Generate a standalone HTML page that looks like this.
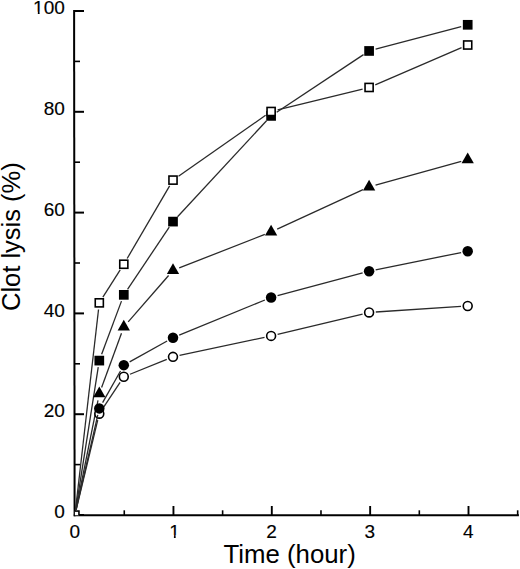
<!DOCTYPE html>
<html><head><meta charset="utf-8">
<style>
html,body{margin:0;padding:0;background:#fff;}
body{width:520px;height:569px;overflow:hidden;}
svg{display:block;font-family:"Liberation Sans", sans-serif;}
</style></head>
<body>
<svg width="520" height="569" viewBox="0 0 520 569">
<rect width="520" height="569" fill="#fff"/>
<g stroke="#000">
<line x1="74.1" y1="10" x2="74.6" y2="516.2" stroke-width="2"/>
<line x1="73.8" y1="515.2" x2="518.9" y2="515.2" stroke-width="2"/>
<line x1="74" y1="515.00" x2="84" y2="515.00" stroke-width="2"/>
<line x1="74" y1="464.60" x2="80" y2="464.60" stroke-width="1.6"/>
<line x1="74" y1="414.20" x2="84" y2="414.20" stroke-width="2"/>
<line x1="74" y1="363.80" x2="80" y2="363.80" stroke-width="1.6"/>
<line x1="74" y1="313.40" x2="84" y2="313.40" stroke-width="2"/>
<line x1="74" y1="263.00" x2="80" y2="263.00" stroke-width="1.6"/>
<line x1="74" y1="212.60" x2="84" y2="212.60" stroke-width="2"/>
<line x1="74" y1="162.20" x2="80" y2="162.20" stroke-width="1.6"/>
<line x1="74" y1="111.80" x2="84" y2="111.80" stroke-width="2"/>
<line x1="74" y1="61.40" x2="80" y2="61.40" stroke-width="1.6"/>
<line x1="74" y1="11.00" x2="84" y2="11.00" stroke-width="2"/>
<line x1="124.27" y1="515.20" x2="124.27" y2="510.3" stroke-width="1.6"/>
<line x1="173.45" y1="515.20" x2="173.45" y2="506" stroke-width="1.9"/>
<line x1="222.62" y1="515.20" x2="222.62" y2="510.3" stroke-width="1.6"/>
<line x1="271.80" y1="515.20" x2="271.80" y2="506" stroke-width="1.9"/>
<line x1="320.98" y1="515.20" x2="320.98" y2="510.3" stroke-width="1.6"/>
<line x1="370.15" y1="515.20" x2="370.15" y2="506" stroke-width="1.9"/>
<line x1="419.32" y1="515.20" x2="419.32" y2="510.3" stroke-width="1.6"/>
<line x1="468.50" y1="515.20" x2="468.50" y2="506" stroke-width="1.9"/>
<line x1="517.67" y1="515.20" x2="517.67" y2="510.3" stroke-width="1.6"/>
</g>
<g stroke="#2a2a2a" stroke-width="1.3"><line x1="75.76" y1="509.57" x2="98.25" y2="367.22"/><line x1="101.64" y1="354.32" x2="121.46" y2="301.13"/><line x1="127.54" y1="289.29" x2="169.26" y2="227.16"/><line x1="177.56" y1="216.69" x2="266.54" y2="120.81"/><line x1="276.68" y1="112.20" x2="363.52" y2="54.65"/><line x1="375.58" y1="49.23" x2="461.22" y2="26.52"/></g>
<rect x="94.45" y="355.75" width="9.7" height="9.7" fill="#000"/>
<rect x="118.95" y="290.00" width="9.7" height="9.7" fill="#000"/>
<rect x="168.15" y="216.75" width="9.7" height="9.7" fill="#000"/>
<rect x="266.25" y="111.05" width="9.7" height="9.7" fill="#000"/>
<rect x="364.25" y="46.10" width="9.7" height="9.7" fill="#000"/>
<rect x="462.85" y="19.95" width="9.7" height="9.7" fill="#000"/>
<g stroke="#2a2a2a" stroke-width="1.3"><line x1="75.98" y1="509.61" x2="97.98" y2="400.27"/><line x1="101.61" y1="387.41" x2="121.49" y2="333.19"/><line x1="128.20" y1="321.85" x2="168.60" y2="275.45"/><line x1="179.24" y1="267.95" x2="264.86" y2="234.35"/><line x1="277.19" y1="229.10" x2="363.01" y2="189.70"/><line x1="375.56" y1="185.11" x2="461.24" y2="161.39"/></g>
<polygon points="99.30,386.50 93.15,397.30 105.45,397.30" fill="#000"/>
<polygon points="123.80,319.70 117.65,330.50 129.95,330.50" fill="#000"/>
<polygon points="173.00,263.20 166.85,274.00 179.15,274.00" fill="#000"/>
<polygon points="271.10,224.70 264.95,235.50 277.25,235.50" fill="#000"/>
<polygon points="369.10,179.70 362.95,190.50 375.25,190.50" fill="#000"/>
<polygon points="467.70,152.40 461.55,163.20 473.85,163.20" fill="#000"/>
<g stroke="#2a2a2a" stroke-width="1.3"><line x1="76.19" y1="509.65" x2="97.73" y2="420.21"/><line x1="103.00" y1="408.12" x2="120.10" y2="382.33"/><line x1="130.01" y1="374.24" x2="166.79" y2="359.36"/><line x1="179.55" y1="355.45" x2="264.55" y2="337.30"/><line x1="277.62" y1="334.34" x2="362.58" y2="314.01"/><line x1="375.79" y1="312.01" x2="461.01" y2="306.44"/></g>
<circle cx="99.30" cy="413.70" r="4.45" fill="#fff" stroke="#000" stroke-width="1.6"/>
<circle cx="123.80" cy="376.75" r="4.45" fill="#fff" stroke="#000" stroke-width="1.6"/>
<circle cx="173.00" cy="356.85" r="4.45" fill="#fff" stroke="#000" stroke-width="1.6"/>
<circle cx="271.10" cy="335.90" r="4.45" fill="#fff" stroke="#000" stroke-width="1.6"/>
<circle cx="369.10" cy="312.45" r="4.45" fill="#fff" stroke="#000" stroke-width="1.6"/>
<circle cx="467.70" cy="306.00" r="4.45" fill="#fff" stroke="#000" stroke-width="1.6"/>
<g stroke="#2a2a2a" stroke-width="1.3"><line x1="76.13" y1="509.64" x2="97.81" y2="414.93"/><line x1="102.60" y1="402.57" x2="120.50" y2="370.98"/><line x1="129.65" y1="361.89" x2="167.15" y2="340.96"/><line x1="179.20" y1="335.16" x2="264.90" y2="299.99"/><line x1="277.57" y1="295.72" x2="362.63" y2="272.93"/><line x1="375.67" y1="269.87" x2="461.13" y2="252.53"/></g>
<circle cx="99.30" cy="408.40" r="5.25" fill="#000"/>
<circle cx="123.80" cy="365.15" r="5.25" fill="#000"/>
<circle cx="173.00" cy="337.70" r="5.25" fill="#000"/>
<circle cx="271.10" cy="297.45" r="5.25" fill="#000"/>
<circle cx="369.10" cy="271.20" r="5.25" fill="#000"/>
<circle cx="467.70" cy="251.20" r="5.25" fill="#000"/>
<g stroke="#2a2a2a" stroke-width="1.3"><line x1="75.53" y1="509.54" x2="98.53" y2="309.51"/><line x1="102.89" y1="297.19" x2="120.21" y2="269.91"/><line x1="127.18" y1="258.47" x2="169.62" y2="185.88"/><line x1="178.49" y1="176.26" x2="265.61" y2="115.34"/><line x1="277.61" y1="109.90" x2="362.59" y2="89.05"/><line x1="375.25" y1="84.80" x2="461.55" y2="47.65"/></g>
<rect x="95.25" y="298.80" width="8.10" height="8.10" fill="#fff" stroke="#000" stroke-width="1.6"/>
<rect x="119.75" y="260.20" width="8.10" height="8.10" fill="#fff" stroke="#000" stroke-width="1.6"/>
<rect x="168.95" y="176.05" width="8.10" height="8.10" fill="#fff" stroke="#000" stroke-width="1.6"/>
<rect x="267.05" y="107.45" width="8.10" height="8.10" fill="#fff" stroke="#000" stroke-width="1.6"/>
<rect x="365.05" y="83.40" width="8.10" height="8.10" fill="#fff" stroke="#000" stroke-width="1.6"/>
<rect x="463.65" y="40.95" width="8.10" height="8.10" fill="#fff" stroke="#000" stroke-width="1.6"/>
<defs><clipPath id="pa"><rect x="74.9" y="0" width="445" height="515.2"/></clipPath></defs>
<g clip-path="url(#pa)"><rect x="70.85" y="511.05" width="8.10" height="8.10" fill="#fff" stroke="#000" stroke-width="1.6"/></g>
<g font-size="19" fill="#000" stroke="#000" stroke-width="0.15">
<text x="64.8" y="518.15" text-anchor="end">0</text>
<text x="64.8" y="417.35" text-anchor="end">20</text>
<text x="64.8" y="316.55" text-anchor="end">40</text>
<text x="64.8" y="215.75" text-anchor="end">60</text>
<text x="64.8" y="114.95" text-anchor="end">80</text>
<text x="64.8" y="14.15" text-anchor="end">100</text>
<text x="74.80" y="537.6" text-anchor="middle">0</text>
<text x="174.45" y="537.6" text-anchor="middle">1</text>
<text x="271.50" y="537.6" text-anchor="middle">2</text>
<text x="369.85" y="537.6" text-anchor="middle">3</text>
<text x="468.20" y="537.6" text-anchor="middle">4</text>
</g>
<rect x="169.17" y="535.20" width="4.73" height="3.9" fill="#fff"/><rect x="175.67" y="535.20" width="4.61" height="3.9" fill="#fff"/>
<rect x="33.10" y="11.75" width="4.73" height="3.9" fill="#fff"/><rect x="39.61" y="11.75" width="4.61" height="3.9" fill="#fff"/>
<text x="289.6" y="562.9" text-anchor="middle" font-size="25.8">Time (hour)</text>
<text transform="translate(20.4,236.6) rotate(-90)" x="0" y="0" text-anchor="middle" font-size="25.5">Clot lysis (%)</text>
</svg>
</body></html>
